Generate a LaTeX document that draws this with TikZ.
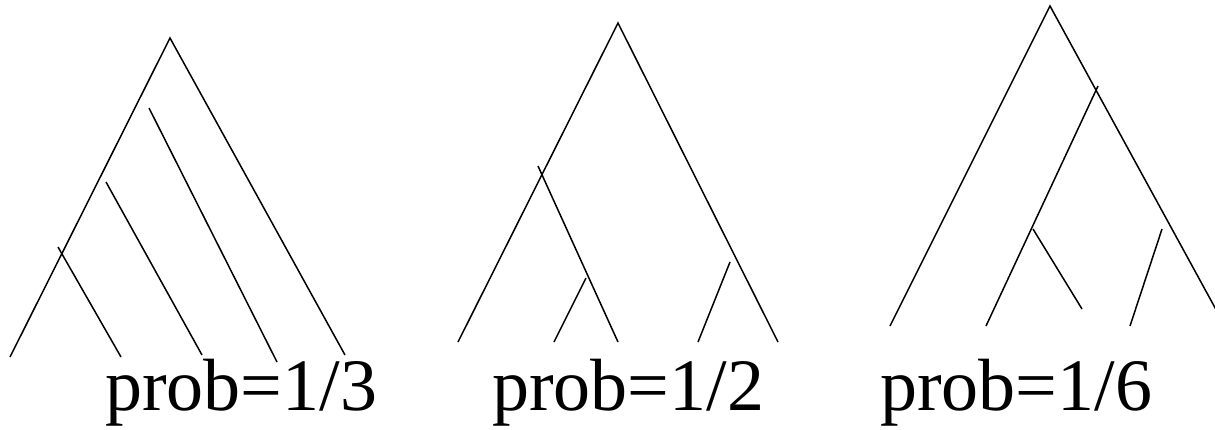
\documentclass[tikz,border=0pt]{standalone}
\usepackage{fontspec}
\setmainfont{Liberation Serif}
\usepackage{tikz}
\usetikzlibrary{positioning}
\tikzset{
  branch/.style={draw=black,line width=1.5pt},
  problabel/.style={anchor=base west,inner sep=0pt,font=\fontsize{74}{80}\selectfont}
}

\begin{document}
\begin{tikzpicture}[x=1pt,y=-1pt]
      \useasboundingbox (0,0) rectangle (1215,429);
      % tree 1
      \coordinate (aroot) at (170,38);
      \coordinate (aleft) at (10,357);
      \coordinate (aright) at (345,355);
      \coordinate (a1top) at (58,247);
      \coordinate (a1bot) at (121,357);
      \coordinate (a2top) at (106,182);
      \coordinate (a2bot) at (202,355);
      \coordinate (a3top) at (149,108);
      \coordinate (a3bot) at (277,362);
      \draw[branch] (aleft)--(aroot)--(aright);
      \draw[branch] (a1top)--(a1bot);
      \draw[branch] (a2top)--(a2bot);
      \draw[branch] (a3top)--(a3bot);
      \node[problabel] (pa) at (105,410) {prob=1/3};
      % tree 2
      \coordinate (broot) at (618,23);
      \coordinate (bleft) at (458,342);
      \coordinate (bright) at (778,342);
      \coordinate (b1top) at (538,166);
      \coordinate (b1bot) at (618,342);
      \coordinate (b2top) at (586,278);
      \coordinate (b2bot) at (554,342);
      \coordinate (b3top) at (730,262);
      \coordinate (b3bot) at (698,342);
      \draw[branch] (bleft)--(broot)--(bright);
      \draw[branch] (b1top)--(b1bot);
      \draw[branch] (b2top)--(b2bot);
      \draw[branch] (b3top)--(b3bot);
      \node[problabel] (pb) at (492,410) {prob=1/2};
      % tree 3
      \coordinate (croot) at (1050,6);
      \coordinate (cleft) at (890,326);
      \coordinate (cright) at (1225,326);
      \coordinate (c1top) at (1098,86);
      \coordinate (c1bot) at (986,326);
      \coordinate (c2top) at (1033,229);
      \coordinate (c2bot) at (1082,309);
      \coordinate (c3top) at (1162,229);
      \coordinate (c3bot) at (1130,326);
      \draw[branch] (cleft)--(croot)--(cright);
      \draw[branch] (c1top)--(c1bot);
      \draw[branch] (c2top)--(c2bot);
      \draw[branch] (c3top)--(c3bot);
      \node[problabel] (pc) at (880,410) {prob=1/6};
    \end{tikzpicture}
\end{document}
